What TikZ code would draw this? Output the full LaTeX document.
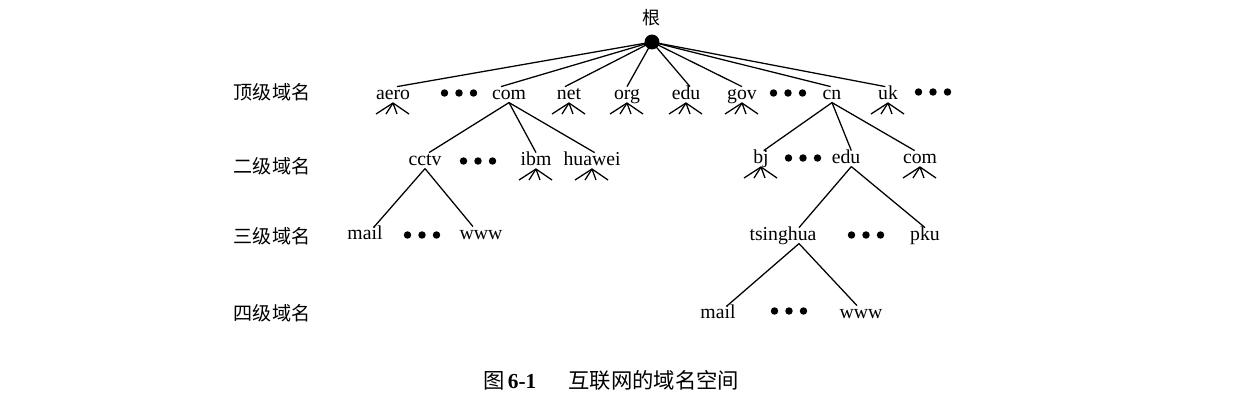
\documentclass[tikz,border=0pt]{standalone}
\usepackage{fontspec}
\setmainfont{Liberation Serif}
\newfontfamily\cjk{Noto Sans CJK SC}
\newcommand\threedots[2]{\foreach \dx in {-14.5,0,14.5}{\fill (#1+\dx,#2) circle[radius=2.8pt];}}
\begin{document}
\begin{tikzpicture}[x=0.75pt,y=-0.75pt,
  lbl/.style={font=\fontsize{14.8}{17}\selectfont, inner sep=0.5pt, anchor=base, text height=0.86em, text depth=0.2em},
  lvl/.style={font=\cjk\fontsize{14.3}{17}\selectfont, inner sep=0pt, anchor=center},
  edge/.style={line width=0.95pt},
  fanline/.style={line width=0.95pt}]
\useasboundingbox (0,0) rectangle (1241,405);

% level labels
\node[lvl] (l1) at (272,92) {顶级域名};
\node[lvl] (l2) at (272,166) {二级域名};
\node[lvl] (l3) at (272,236) {三级域名};
\node[lvl] (l4) at (272,313) {四级域名};

% root
\node[font=\cjk\fontsize{13.5}{16}\selectfont, inner sep=0pt] (rootlbl) at (651,18) {根};
\coordinate (root) at (652,42);

% top level
\node[lbl] (aero) at (393,99) {aero};
\node[lbl] (com) at (509,99) {com};
\node[lbl] (net) at (569,99) {net};
\node[lbl] (org) at (627,99) {org};
\node[lbl] (edu) at (686,99) {edu};
\node[lbl] (gov) at (742,99) {gov};
\node[lbl] (cn) at (832,99) {cn};
\node[lbl] (uk) at (888,99) {uk};
\threedots{459}{93}
\threedots{788}{93}
\threedots{933}{92}

\draw[edge] (root) -- ([xshift=3pt]aero.north);
\draw[edge] (root) -- ([xshift=-6pt]com.north);
\draw[edge] (root) -- ([xshift=-3pt]net.north);
\draw[edge] (root) -- (org.north);
\draw[edge] (root) -- ([xshift=3pt]edu.north);
\draw[edge] (root) -- (gov.north);
\draw[edge] (root) -- ([xshift=-1pt]cn.north);
\draw[edge] (root) -- ([xshift=-2pt]uk.north);
\fill (root) circle[radius=5.6pt];

% second level
\node[lbl] (cctv) at (425,165) {cctv};
\node[lbl] (ibm) at (536,165) {ibm};
\node[lbl] (huawei) at (592,165) {huawei};
\node[lbl] (bj) at (761,163) {bj};
\node[lbl] (edu2) at (846,163) {edu};
\node[lbl] (com2) at (920,163) {com};
\threedots{478}{161}
\threedots{803}{158}

\draw[edge] (com.south) -- ([xshift=3pt]cctv.north);
\draw[edge] (com.south) -- (ibm.north);
\draw[edge] (com.south) -- ([xshift=2pt]huawei.north);
\draw[edge] (cn.south) -- ([xshift=2pt]bj.north);
\draw[edge] (cn.south) -- ([xshift=4pt]edu2.north);
\draw[edge] (cn.south) -- ([xshift=-4pt]com2.north);

% third level
\node[lbl] (mailA) at (365,239) {mail};
\node[lbl] (wwwA) at (481,239) {www};
\node[lbl] (tsinghua) at (783,240) {tsinghua};
\node[lbl] (pku) at (925,240) {pku};
\threedots{422}{235}
\threedots{866}{235}

\draw[edge] (cctv.south) -- ([xshift=7pt]mailA.north);
\draw[edge] (cctv.south) -- ([xshift=-6pt]wwwA.north);
\draw[edge] ([xshift=4pt]edu2.south) -- ([xshift=12pt]tsinghua.north);
\draw[edge] ([xshift=4pt]edu2.south) -- (pku.north);

% fourth level
\node[lbl] (mailB) at (718,318) {mail};
\node[lbl] (wwwB) at (861,318) {www};
\threedots{789}{311}

\draw[edge] ([xshift=12pt]tsinghua.south) -- ([xshift=7pt]mailB.north);
\draw[edge] ([xshift=12pt]tsinghua.south) -- ([xshift=-3pt]wwwB.north);

% fans
\foreach \n in {aero,net,org,edu,gov,uk,ibm,huawei,bj,com2}
  \foreach \dx in {-17,-7,4,16}
    \draw[fanline] ([yshift=-0.3pt]\n.south) -- ++(\dx,11);

% caption
\node[inner sep=0pt, font=\fontsize{16}{19}\selectfont] (cap) at (611,380)
  {{\cjk 图}\,\textbf{6-1}\hspace{1.5em}{\cjk 互联网的域名空间}};
\end{tikzpicture}
\end{document}
